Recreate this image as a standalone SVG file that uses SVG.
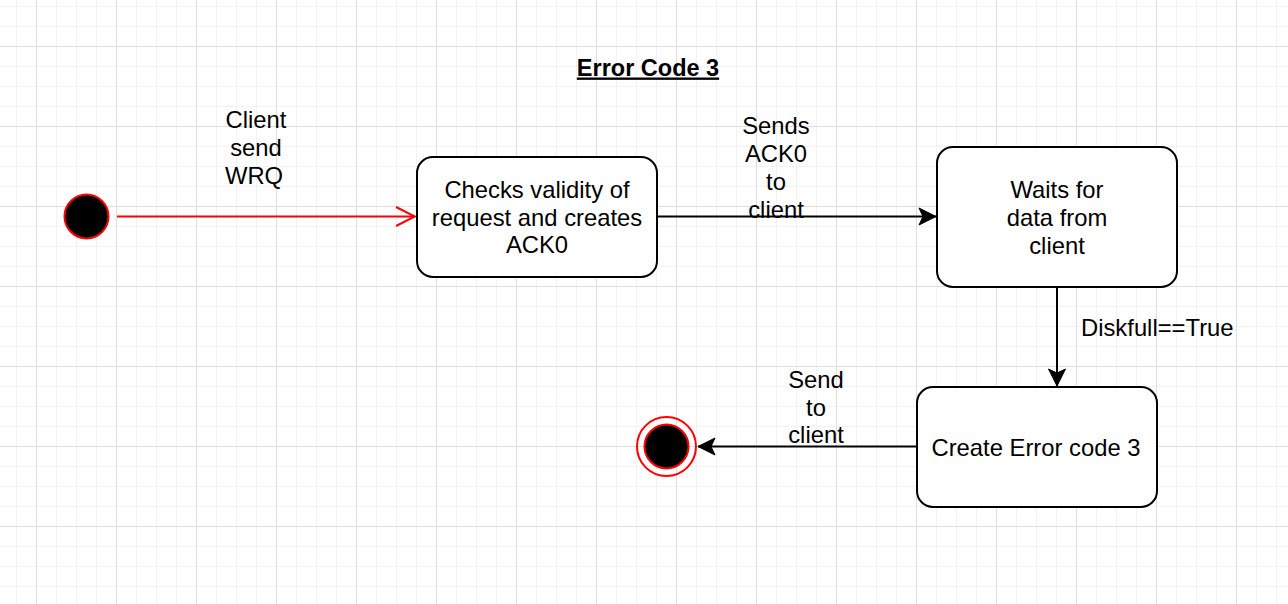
<svg xmlns="http://www.w3.org/2000/svg" width="1288" height="604" viewBox="0 0 1288 604">
<style>
text{font-family:"Liberation Sans",Arial,Helvetica,sans-serif;font-size:23.8px;fill:#000;text-anchor:middle}
.title{font-weight:bold;font-size:23.5px;text-decoration:underline}
.box{fill:#fff;stroke:#000;stroke-width:2}
.edge{fill:none;stroke:#000;stroke-width:2}
.red{fill:none;stroke:#ff0000;stroke-width:2}
</style>
<defs>
<pattern id="grid" patternUnits="userSpaceOnUse" x="36" y="46" width="80" height="80">
<path d="M20.5 0V80M40.5 0V80M60.5 0V80M0 20.5H80M0 40.5H80M0 60.5H80" stroke="#f2f2f2" stroke-width="1" fill="none"/>
<path d="M0.5 0V80M0 0.5H80" stroke="#dedede" stroke-width="1" fill="none"/>
</pattern>
<marker id="arrow" markerUnits="userSpaceOnUse" markerWidth="20" markerHeight="20" viewBox="-18 -10 20 20" refX="0" refY="0" orient="auto">
<path d="M0 0L-17 -8.5L-13 0L-17 8.5Z" fill="#000" stroke="#000" stroke-width="1"/>
</marker>
<marker id="open" markerUnits="userSpaceOnUse" markerWidth="24" markerHeight="24" viewBox="-22 -12 24 24" refX="0" refY="0" orient="auto">
<path d="M-19 -9.5L0 0L-19 9.5" fill="none" stroke="#ff0000" stroke-width="2"/>
</marker>
</defs>
<rect width="1288" height="604" fill="#fff"/>
<rect width="1288" height="604" fill="url(#grid)"/>
<text class="title" x="648" y="75.5">Error Code 3</text>
<g id="connectors">
<g id="e-start">
<path class="red" d="M117 216.5H415" marker-end="url(#open)"/>
<text x="256" y="128">Client</text><text x="256" y="156">send</text><text x="254" y="184">WRQ</text>
</g>
<g id="e-ack">
<path class="edge" d="M657 216.5H936" marker-end="url(#arrow)"/>
<text x="776" y="134">Sends</text><text x="776" y="162">ACK0</text><text x="776" y="190">to</text><text x="776" y="218">client</text>
</g>
<g id="e-disk">
<path class="edge" d="M1057 287V386" marker-end="url(#arrow)"/>
<text x="1081" y="336" style="text-anchor:start">Diskfull==True</text>
</g>
<g id="e-send">
<path class="edge" d="M917 446.5H698" marker-end="url(#arrow)"/>
<text x="816" y="388">Send</text><text x="816" y="416">to</text><text x="816" y="443">client</text>
</g>
</g>
<g id="start"><circle cx="86.5" cy="216.5" r="22" fill="#000" stroke="#ff0000" stroke-width="2"/></g>
<g id="check">
<rect class="box" x="417" y="157" width="240" height="120" rx="16"/>
<text x="537" y="197.5">Checks validity of</text><text x="537" y="225.5">request and creates</text><text x="537" y="253">ACK0</text>
</g>
<g id="wait">
<rect class="box" x="937" y="147" width="240" height="140" rx="16"/>
<text x="1057" y="198">Waits for</text><text x="1057" y="226">data from</text><text x="1057" y="254">client</text>
</g>
<g id="create">
<rect class="box" x="917" y="387" width="240" height="120" rx="16"/>
<text x="1036" y="456">Create Error code 3</text>
</g>
<g id="end">
<circle cx="666.5" cy="446.5" r="29.5" fill="none" stroke="#ff0000" stroke-width="2"/>
<circle cx="666.5" cy="446.5" r="22" fill="#000" stroke="#ff0000" stroke-width="2"/>
</g>
</svg>
